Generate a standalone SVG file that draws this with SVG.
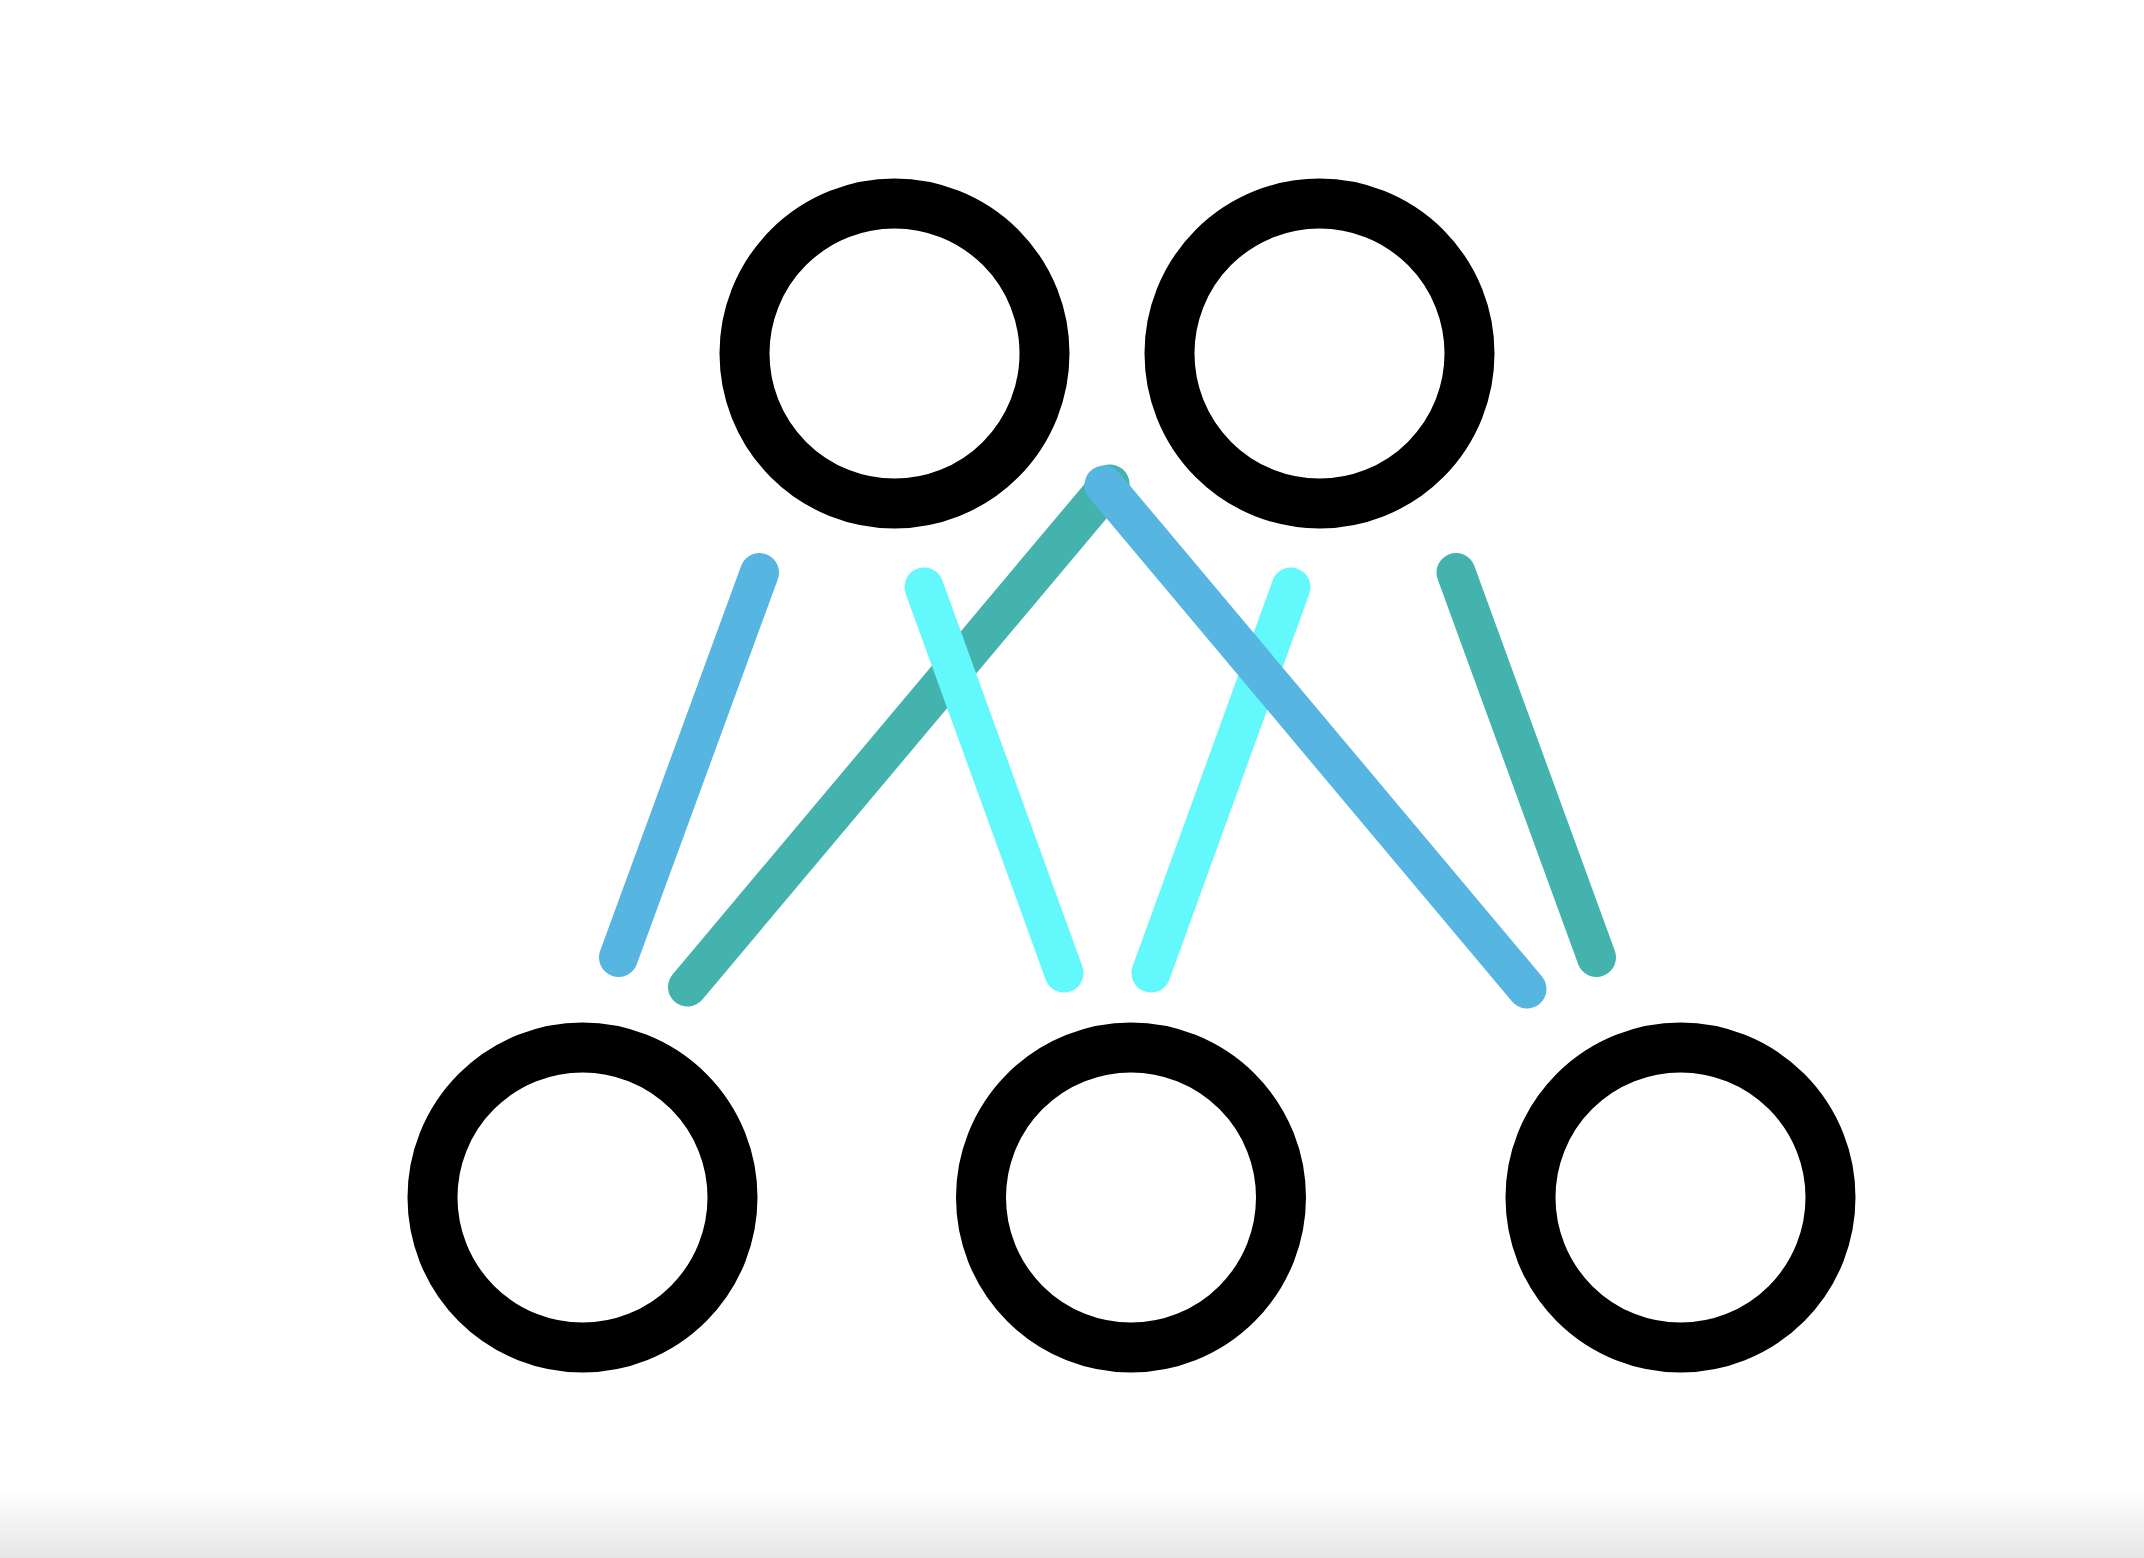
<svg xmlns="http://www.w3.org/2000/svg" width="2144" height="1558" viewBox="0 0 2144 1558">
<style>
.node{fill:none;stroke:#000;stroke-width:50}
.edge{stroke-width:39;stroke-linecap:round;fill:none}
.blue{stroke:#57B6E1}
.teal{stroke:#44B3AE}
.cyan{stroke:#63F8FB}
</style>
<defs>
<linearGradient id="shade" x1="0" y1="0" x2="0" y2="1">
<stop offset="0" stop-color="#ffffff"/>
<stop offset="1" stop-color="#e6e6e6"/>
</linearGradient>
</defs>
<rect width="2144" height="1558" fill="#fff"/>
<rect x="0" y="1490" width="2144" height="68" fill="url(#shade)"/>
<g id="top-left"><circle class="node" cx="894.5" cy="353.5" r="150"/></g>
<g id="top-right"><circle class="node" cx="1319.5" cy="353.5" r="150"/></g>
<g id="bottom-left"><circle class="node" cx="582.5" cy="1197.5" r="150"/></g>
<g id="bottom-middle"><circle class="node" cx="1131" cy="1197.5" r="150"/></g>
<g id="bottom-right"><circle class="node" cx="1680.5" cy="1197.5" r="150"/></g>
<g id="connectors">
<line class="edge teal" x1="1110" y1="484" x2="687.5" y2="987"/>
<line class="edge teal" x1="1456" y1="572.5" x2="1596.5" y2="957.5"/>
<line class="edge cyan" x1="924" y1="587" x2="1064" y2="973"/>
<line class="edge cyan" x1="1291" y1="587" x2="1151" y2="973"/>
<line class="edge blue" x1="759.5" y1="572.5" x2="618.5" y2="957.5"/>
<line class="edge blue" x1="1104" y1="485" x2="1527" y2="989"/>
</g>
</svg>
